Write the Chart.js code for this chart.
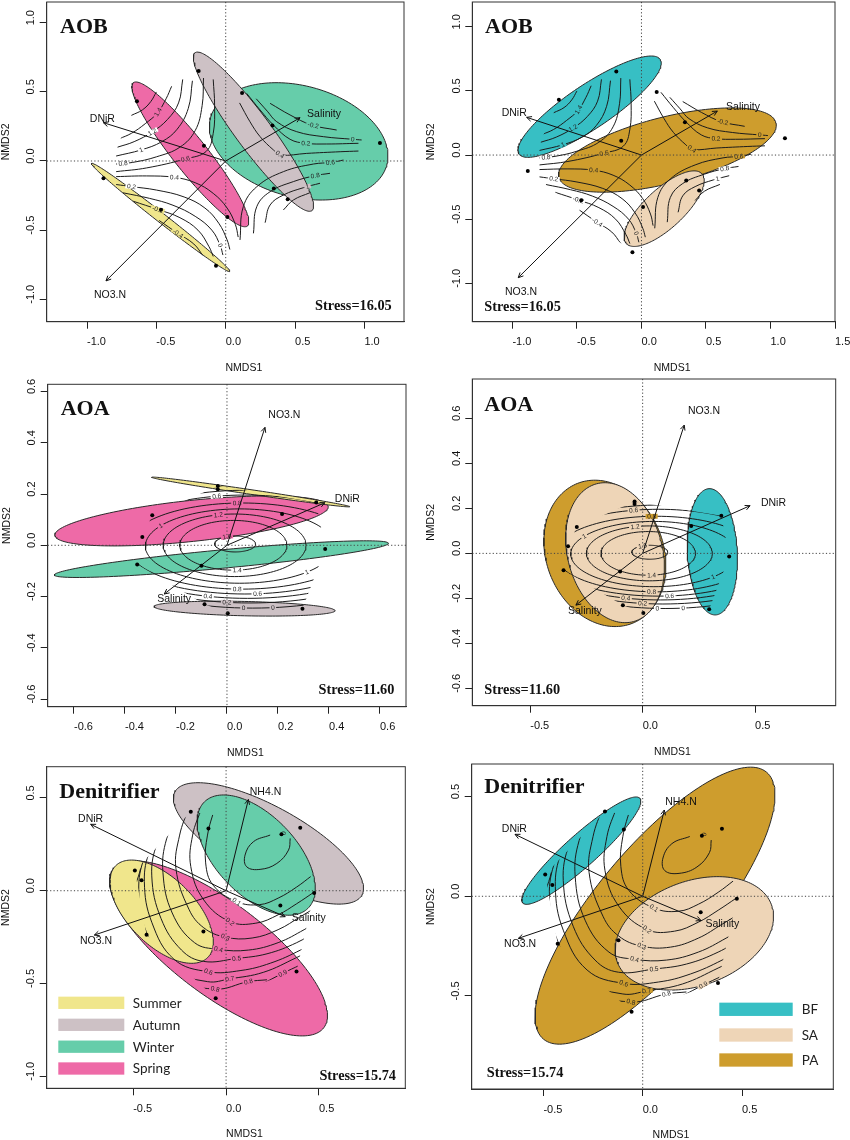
<!DOCTYPE html>
<html>
<head>
<meta charset="utf-8">
<title>NMDS ordinations</title>
<script src="https://cdn.jsdelivr.net/npm/chart.js@4.4.1/dist/chart.umd.min.js"></script>
<style>
html,body{margin:0;padding:0;background:#ffffff;}
#wrap{position:relative;width:850px;height:1140px;overflow:hidden;background:#ffffff;}
#wrap canvas{position:absolute;display:block;}
</style>
</head>
<body>
<div id="wrap"></div>
<script>
/* ================= DATA ================= */
// sample scores (NMDS1, NMDS2)
const aobX = [-0.640, -0.195, 0.118, -0.157, 0.337, 1.112, 0.347, 0.447, 0.012, -0.881, -0.467, -0.070];
const aobY = [0.432, 0.651, 0.491, 0.111, 0.256, 0.131, -0.198, -0.277, -0.405, -0.125, -0.353, -0.758];
const aoaX = [-0.036, -0.036, 0.350, 0.216, -0.293, -0.332, 0.385, -0.352, -0.100, -0.088, 0.003, 0.296];
const aoaY = [0.231, 0.219, 0.167, 0.122, 0.117, 0.032, -0.014, -0.075, -0.080, -0.230, -0.265, -0.248];
const denX = [-0.190, -0.095, 0.298, 0.399, -0.491, -0.455, 0.474, 0.292, -0.122, -0.428, 0.379, -0.056];
const denY = [0.426, 0.335, 0.304, 0.339, 0.109, 0.057, -0.012, -0.080, -0.220, -0.238, -0.435, -0.579];

// groups
const seasonNames = ['Summer', 'Autumn', 'Winter', 'Spring'];
const siteNames = ['BF', 'SA', 'PA'];
const seasonColors = {Summer: '#F0E68C', Autumn: '#CDC1C5', Winter: '#66CDAA', Spring: '#EE6AA7'};
const siteColors = {BF: '#37BFC4', SA: '#EED5B7', PA: '#CE9D2D'};

// group ellipses: [group, centre x, centre y, semi-major, semi-minor, angle (deg)] in drawing order
const aobSeasonEll = [['Summer', -0.469, -0.408, 0.634, 0.034, -38.1], ['Spring', -0.255, 0.048, 0.661, 0.122, -51.6], ['Winter', 0.526, 0.142, 0.658, 0.402, -15.1], ['Autumn', 0.200, 0.212, 0.709, 0.128, -53.6]];
const aobSiteEll = [['BF', -0.402, 0.377, 0.660, 0.170, 34.0], ['PA', 0.201, 0.039, 0.868, 0.258, 14.2], ['SA', 0.176, -0.418, 0.400, 0.152, 43.0]];
const aoaSeasonEll = [['Spring', -0.139, 0.095, 0.539, 0.080, 6.0], ['Winter', -0.022, -0.054, 0.658, 0.036, 5.4], ['Autumn', 0.069, -0.247, 0.355, 0.028, -1.3], ['Summer', 0.093, 0.208, 0.393, 0.009, -8.4]];
const aoaSiteEll = [['PA', -0.168, 0.000, 0.334, 0.261, -68.7], ['SA', -0.123, 0.003, 0.317, 0.211, -75.0], ['BF', 0.310, 0.007, 0.281, 0.111, 93.0]];
const denSeasonEll = [['Autumn', 0.228, 0.255, 0.575, 0.196, -29.0], ['Winter', 0.162, 0.192, 0.400, 0.215, -46.0], ['Spring', -0.041, -0.311, 0.710, 0.250, -37.0], ['Summer', -0.347, -0.113, 0.350, 0.180, -45.0]];
const denSiteEll = [['BF', -0.309, 0.229, 0.395, 0.080, 41.7], ['PA', 0.062, -0.047, 0.874, 0.290, 50.0], ['SA', 0.260, -0.186, 0.414, 0.262, 20.3]];

// fitted environmental vectors: [name, tip x, tip y, label x, label y]
const aobSeasonArrows = [['Salinity', 0.536, 0.313, 0.709, 0.337], ['DNiR', -0.882, 0.277, -0.889, 0.301], ['NO3.N', -0.863, -0.867, -0.834, -0.969]];
const aobSiteArrows = [['Salinity', 0.588, 0.343, 0.787, 0.374], ['DNiR', -0.890, 0.294, -0.986, 0.330], ['NO3.N', -0.955, -0.956, -0.934, -1.065]];
const aoaSeasonArrows = [['NO3.N', 0.149, 0.460, 0.225, 0.508], ['DNiR', 0.384, 0.166, 0.472, 0.179], ['Salinity', -0.246, -0.190, -0.207, -0.211]];
const aoaSiteArrows = [['NO3.N', 0.185, 0.570, 0.273, 0.633], ['DNiR', 0.478, 0.212, 0.582, 0.222], ['Salinity', -0.297, -0.230, -0.257, -0.256]];
const denSeasonArrows = [['NH4.N', 0.120, 0.492, 0.212, 0.534], ['DNiR', -0.729, 0.358, -0.729, 0.388], ['NO3.N', -0.709, -0.239, -0.700, -0.270], ['Salinity', 0.318, -0.140, 0.445, -0.147]];
const denSiteArrows = [['NH4.N', 0.109, 0.433, 0.193, 0.472], ['DNiR', -0.643, 0.311, -0.646, 0.338], ['NO3.N', -0.626, -0.211, -0.617, -0.241], ['Salinity', 0.294, -0.122, 0.401, -0.139]];

// fitted surface contours (ordisurf): [level, [[x,y],...]]
const aobContours = [
  ['1.6', [[-0.68, 0.33], [-0.60, 0.37], [-0.54, 0.43], [-0.50, 0.50]]],
  ['1.4', [[-0.77, 0.16], [-0.68, 0.20], [-0.58, 0.27], [-0.49, 0.35], [-0.43, 0.45], [-0.39, 0.54]]],
  ['1.2', [[-0.78, 0.10], [-0.66, 0.14], [-0.53, 0.21], [-0.42, 0.30], [-0.34, 0.42], [-0.31, 0.59]]],
  ['1', [[-0.79, 0.036], [-0.61, 0.08], [-0.46, 0.14], [-0.35, 0.23], [-0.27, 0.38], [-0.24, 0.58]]],
  ['0.8', [[-0.79, -0.022], [-0.67, -0.01], [-0.50, 0.03], [-0.33, 0.10], [-0.22, 0.22], [-0.17, 0.40], [-0.16, 0.60]]],
  ['0.6', [[-0.79, -0.077], [-0.57, -0.05], [-0.29, 0.015], [-0.14, 0.07], [-0.09, 0.20], [-0.08, 0.40], [-0.09, 0.59]]],
  ['0.4', [[-0.79, -0.113], [-0.57, -0.108], [-0.37, -0.118], [-0.22, -0.157], [-0.09, -0.234], [0.01, -0.34], [0.07, -0.46], [0.09, -0.55]]],
  ['0.2', [[-0.79, -0.17], [-0.68, -0.185], [-0.50, -0.21], [-0.30, -0.26], [-0.15, -0.34], [-0.05, -0.45], [0.01, -0.57], [0.03, -0.64]]],
  ['0', [[-0.74, -0.23], [-0.55, -0.27], [-0.38, -0.32], [-0.22, -0.40], [-0.10, -0.50], [-0.04, -0.61], [-0.02, -0.68]]],
  ['-0.2', [[-0.67, -0.29], [-0.49, -0.35], [-0.33, -0.41], [-0.20, -0.50], [-0.12, -0.62], [-0.09, -0.69]]],
  ['-0.4', [[-0.48, -0.43], [-0.35, -0.52], [-0.23, -0.60], [-0.16, -0.69]]],
  ['0.4', [[0.10, 0.42], [0.175, 0.284], [0.248, 0.176], [0.344, 0.08], [0.397, 0.043], [0.584, 0.055], [0.825, 0.067], [0.957, 0.072]]],
  ['0.2', [[0.151, 0.489], [0.248, 0.369], [0.344, 0.26], [0.464, 0.157], [0.577, 0.128], [0.728, 0.123], [0.957, 0.128]]],
  ['0', [[0.22, 0.45], [0.30, 0.36], [0.368, 0.284], [0.512, 0.212], [0.704, 0.176], [0.916, 0.157], [0.98, 0.152]]],
  ['-0.2', [[0.32, 0.417], [0.464, 0.333], [0.62, 0.26], [0.80, 0.224]]],
  ['0.6', [[0.103, -0.571], [0.127, -0.33], [0.224, -0.186], [0.416, -0.077], [0.632, -0.022], [0.764, -0.010], [0.849, 0.007]]],
  ['0.8', [[0.200, -0.523], [0.224, -0.33], [0.32, -0.222], [0.488, -0.149], [0.644, -0.106], [0.752, -0.089]]],
  ['1', [[0.284, -0.446], [0.32, -0.318], [0.416, -0.246], [0.56, -0.193], [0.68, -0.161]]],
  ['1.2', [[0.416, -0.354], [0.488, -0.282], [0.608, -0.229]]]
];
const aobContourLabels = [['1.4', -0.49, 0.355], ['1.2', -0.53, 0.21], ['1', -0.61, 0.083], ['0.8', -0.74, -0.018], ['0.6', -0.29, 0.015], ['0.4', -0.37, -0.118], ['0.2', -0.68, -0.185], ['-0.2', -0.49, -0.35], ['-0.4', -0.34, -0.52], ['0', -0.04, -0.61], ['-0.2', 0.63, 0.255], ['0', 0.916, 0.157], ['0.2', 0.578, 0.127], ['0.4', 0.39, 0.045], ['0.6', 0.755, -0.012], ['0.8', 0.645, -0.105], ['1', 0.59, -0.185]];

// AOA surface: closed contour rings [level, centre x, centre y, half-width, half-height]
const aoaRings = [['1.6', 0.032, 0.005, 0.08, 0.031], ['1.4', 0.025, 0.0, 0.21, 0.097], ['1.2', 0.03, 0.0, 0.28, 0.122], ['1', 0.05, -0.003, 0.37, 0.145], ['0.8', 0.06, -0.003, 0.45, 0.168], ['0.6', 0.07, 0.003, 0.52, 0.193], ['0.4', 0.08, 0.004, 0.57, 0.211], ['0.2', 0.09, 0.0045, 0.62, 0.2295], ['0', 0.10, 0.005, 0.67, 0.25]];
const aoaContourLabels = [['1.6', 0.0, 0.033], ['1.4', 0.04, -0.097], ['1.2', -0.034, 0.119], ['1', -0.26, 0.076], ['1', 0.314, -0.107], ['0.8', 0.04, 0.165], ['0.8', 0.04, -0.171], ['0.6', -0.04, 0.19], ['0.6', 0.12, -0.189], ['0.4', -0.075, -0.199], ['0.2', 0.0, -0.222], ['0', 0.065, -0.245], ['0', 0.18, -0.244]];

const denContours = [
  ['0', [[0.237, 0.300], [0.147, 0.264], [0.102, 0.192], [0.111, 0.129], [0.183, 0.115], [0.273, 0.147], [0.336, 0.219], [0.345, 0.282]]],
  ['0.1', [[-0.06, 0.45], [-0.10, 0.30], [-0.11, 0.15], [-0.07, 0.03], [0.057, -0.059], [0.18, -0.075], [0.28, -0.04], [0.38, 0.02], [0.46, 0.08]]],
  ['0.2', [[-0.13, 0.45], [-0.18, 0.30], [-0.19, 0.13], [-0.12, -0.05], [0.022, -0.167], [0.16, -0.175], [0.28, -0.13], [0.38, -0.07], [0.47, -0.01]]],
  ['0.3', [[-0.20, 0.45], [-0.25, 0.30], [-0.27, 0.12], [-0.20, -0.10], [-0.12, -0.20], [-0.005, -0.25], [0.14, -0.255], [0.28, -0.21], [0.40, -0.14], [0.50, -0.08]]],
  ['0.4', [[-0.25, 0.42], [-0.32, 0.28], [-0.34, 0.10], [-0.29, -0.12], [-0.17, -0.28], [-0.041, -0.316], [0.12, -0.32], [0.28, -0.28], [0.42, -0.21], [0.52, -0.15]]],
  ['0.5', [[-0.29, 0.40], [-0.37, 0.26], [-0.40, 0.08], [-0.35, -0.15], [-0.24, -0.32], [-0.122, -0.381], [0.057, -0.365], [0.22, -0.34], [0.38, -0.28], [0.50, -0.21]]],
  ['0.6', [[-0.33, 0.37], [-0.41, 0.22], [-0.44, 0.05], [-0.40, -0.17], [-0.28, -0.37], [-0.095, -0.437], [0.08, -0.43], [0.24, -0.39], [0.40, -0.32], [0.52, -0.25]]],
  ['0.7', [[-0.36, 0.33], [-0.44, 0.18], [-0.47, 0.0], [-0.43, -0.22], [-0.30, -0.42], [-0.10, -0.49], [0.02, -0.475], [0.20, -0.44], [0.38, -0.36], [0.50, -0.30]]],
  ['0.8', [[-0.46, 0.12], [-0.50, -0.05], [-0.46, -0.26], [-0.33, -0.46], [-0.059, -0.53], [0.12, -0.49], [0.22, -0.48]]],
  ['0.9', [[0.20, -0.50], [0.305, -0.445], [0.40, -0.40]]]
];
const denContourLabels = [['0', 0.31, 0.31], ['0.1', 0.057, -0.059], ['0.2', 0.022, -0.167], ['0.3', -0.005, -0.25], ['0.4', -0.041, -0.316], ['0.5', 0.057, -0.365], ['0.6', -0.095, -0.437], ['0.7', 0.02, -0.475], ['0.8', 0.12, -0.49], ['0.8', -0.059, -0.53], ['0.9', 0.305, -0.445]];

// axis tick values
const aobTicks = [-1, -0.5, 0, 0.5, 1];
const aobSiteXTicks = [-1, -0.5, 0, 0.5, 1, 1.5];
const aoaTicks = [-0.6, -0.4, -0.2, 0, 0.2, 0.4, 0.6];
const halfTicks = [-0.5, 0, 0.5];
const denYTicks = [-1, -0.5, 0, 0.5];

/* ================= PANELS ================= */
const PANELS = {
  p1: {xs: aobX, ys: aobY, xt: aobTicks, yt: aobTicks, ell: aobSeasonEll, col: seasonColors, cont: aobContours, rings: [], clabels: aobContourLabels, arrows: aobSeasonArrows, title: 'AOB', stress: 'Stress=16.05', legend: null},
  p2: {xs: aobX, ys: aobY, xt: aobSiteXTicks, yt: aobTicks, ell: aobSiteEll, col: siteColors, cont: aobContours, rings: [], clabels: aobContourLabels, arrows: aobSiteArrows, title: 'AOB', stress: 'Stress=16.05', legend: null},
  p3: {xs: aoaX, ys: aoaY, xt: aoaTicks, yt: aoaTicks, ell: aoaSeasonEll, col: seasonColors, cont: [], rings: aoaRings, clabels: aoaContourLabels, arrows: aoaSeasonArrows, title: 'AOA', stress: 'Stress=11.60', legend: null},
  p4: {xs: aoaX, ys: aoaY, xt: halfTicks, yt: aoaTicks, ell: aoaSiteEll, col: siteColors, cont: [], rings: aoaRings, clabels: aoaContourLabels, arrows: aoaSiteArrows, title: 'AOA', stress: 'Stress=11.60', legend: null},
  p5: {xs: denX, ys: denY, xt: halfTicks, yt: denYTicks, ell: denSeasonEll, col: seasonColors, cont: denContours, rings: [], clabels: denContourLabels, arrows: denSeasonArrows, title: 'Denitrifier', stress: 'Stress=15.74', legend: seasonNames},
  p6: {xs: denX, ys: denY, xt: halfTicks, yt: halfTicks, ell: denSiteEll, col: siteColors, cont: denContours, rings: [], clabels: denContourLabels, arrows: denSiteArrows, title: 'Denitrifier', stress: 'Stress=15.74', legend: siteNames}
};

// page layout (pixels) and axis limits
const LAYOUT = {
  p1: {left: 0, top: 0, w: 425, h: 378, L: 46.7, T: 2, R: 404, B: 321.7, xr: [-1.2906, 1.2855], yr: [-1.162, 1.1497], titleAt: [60, 33.3], stressAt: ['right', 391.7, 310]},
  p2: {left: 425, top: 0, w: 425, h: 378, L: 472.3, T: 2, R: 835, B: 321.7, xr: [-1.311, 1.5], yr: [-1.299, 1.193], titleAt: [485, 33.3], stressAt: ['left', 484.3, 310.7]},
  p3: {left: 0, top: 370, w: 425, h: 393, L: 47.7, T: 384.3, R: 406, B: 706.7, xr: [-0.703, 0.702], yr: [-0.6296, 0.628], titleAt: [60.7, 415], stressAt: ['right', 394.3, 694]},
  p4: {left: 425, top: 370, w: 425, h: 393, L: 472.3, T: 379, R: 835.7, B: 705.7, xr: [-0.758, 0.859], yr: [-0.677, 0.775], titleAt: [484.3, 411], stressAt: ['left', 484.3, 694]},
  p5: {left: 0, top: 755, w: 425, h: 385, L: 46.7, T: 766.7, R: 405.3, B: 1088.3, xr: [-0.9655, 0.9645], yr: [-1.065, 0.6685], titleAt: [59.3, 798.3], stressAt: ['right', 396, 1080],
       legendBox: {x0: 58.3, x1: 124.3, rows: [1002.8, 1024.8, 1046.7, 1068.5], h: 12.3, tx: 132.7}},
  p6: {left: 425, top: 755, w: 425, h: 385, L: 471.7, T: 764, R: 833.3, B: 1089, xr: [-0.861, 0.9597], yr: [-0.9669, 0.6638], titleAt: [484.3, 793.3], stressAt: ['left', 486.7, 1076.7],
       legendBox: {x0: 719.3, x1: 792.7, rows: [1009.3, 1035, 1060], h: 13.3, tx: 801.7}}
};

/* ================= HELPERS ================= */
function ellipsePts(cx, cy, a, b, deg, n) {
  const t0 = deg * Math.PI / 180, c = Math.cos(t0), s = Math.sin(t0), out = [];
  for (let i = 0; i <= n; i++) {
    const t = 2 * Math.PI * i / n, u = a * Math.cos(t), v = b * Math.sin(t);
    out.push({x: cx + u * c - v * s, y: cy + u * s + v * c});
  }
  return out;
}
function hullOf(xs, ys) {
  const p = xs.map((x, i) => [x, ys[i]]).sort((a, b) => a[0] - b[0] || a[1] - b[1]);
  const cr = (o, a, b) => (a[0] - o[0]) * (b[1] - o[1]) - (a[1] - o[1]) * (b[0] - o[0]);
  const lo = [], up = [];
  for (const q of p) { while (lo.length >= 2 && cr(lo[lo.length - 2], lo[lo.length - 1], q) <= 0) lo.pop(); lo.push(q); }
  for (const q of p.slice().reverse()) { while (up.length >= 2 && cr(up[up.length - 2], up[up.length - 1], q) <= 0) up.pop(); up.push(q); }
  return lo.slice(0, -1).concat(up.slice(0, -1));
}
function coverColor(P, x, y) {
  let col = '#ffffff';
  P.ell.forEach(e => {
    const t = -e[5] * Math.PI / 180, dx = x - e[1], dy = y - e[2];
    const u = dx * Math.cos(t) - dy * Math.sin(t), v = dx * Math.sin(t) + dy * Math.cos(t);
    if ((u / e[3]) ** 2 + (v / e[4]) ** 2 <= 1) col = P.col[e[0]];
  });
  return col;
}
const fmt = v => (Math.abs(v) < 1e-9 ? 0 : v).toFixed(1);
const SANS = '"Liberation Sans", Arial, sans-serif';
const SERIF = '"Liberation Serif", "Times New Roman", serif';

function drawContourLabels(chart) {
  const P = PANELS[chart.canvas.id], ctx = chart.ctx, sx = chart.scales.x, sy = chart.scales.y;
  const segs = [];
  chart.data.datasets.forEach((d, i) => {
    if (d.kind !== 'contour') return;
    const m = chart.getDatasetMeta(i);
    for (let k = 1; k < m.data.length; k++) segs.push([m.data[k - 1], m.data[k]]);
  });
  ctx.save();
  ctx.font = '6.5px ' + SANS; ctx.textAlign = 'center'; ctx.textBaseline = 'middle';
  P.clabels.forEach(l => {
    let X = sx.getPixelForValue(l[1]), Y = sy.getPixelForValue(l[2]);
    let best = 1e9, ang = 0, px = X, py = Y;
    segs.forEach(s => {
      const ax = s[0].x, ay = s[0].y, dx = s[1].x - ax, dy = s[1].y - ay;
      const L2 = dx * dx + dy * dy || 1;
      let t = ((X - ax) * dx + (Y - ay) * dy) / L2; t = Math.max(0, Math.min(1, t));
      const qx = ax + t * dx, qy = ay + t * dy, d2 = (qx - X) ** 2 + (qy - Y) ** 2;
      if (d2 < best) { best = d2; ang = Math.atan2(dy, dx); px = qx; py = qy; }
    });
    if (best < 36) { X = px; Y = py; }
    if (ang > Math.PI / 2) ang -= Math.PI;
    if (ang < -Math.PI / 2) ang += Math.PI;
    const w = ctx.measureText(l[0]).width + 3;
    ctx.save(); ctx.translate(X, Y); ctx.rotate(ang);
    ctx.fillStyle = coverColor(P, sx.getValueForPixel(X), sy.getValueForPixel(Y));
    ctx.fillRect(-w / 2, -2.4, w, 4.8);
    ctx.fillStyle = '#222'; ctx.fillText(l[0], 0, 0.3);
    ctx.restore();
  });
  ctx.restore();
}

const deco = {
  id: 'deco',
  beforeDatasetDraw(chart, args) {
    const d = chart.data.datasets[args.index], ctx = chart.ctx, P = PANELS[chart.canvas.id];
    if (d.kind === 'ellipse') {
      const a = chart.chartArea, pts = args.meta.data;
      ctx.save(); ctx.beginPath(); ctx.rect(a.left, a.top, a.right - a.left, a.bottom - a.top); ctx.clip();
      ctx.beginPath(); pts.forEach((p, i) => i ? ctx.lineTo(p.x, p.y) : ctx.moveTo(p.x, p.y)); ctx.closePath();
      ctx.fillStyle = d.fillColor; ctx.fill(); ctx.restore();
    } else if (d.kind === 'contour') {
      const sx = chart.scales.x, sy = chart.scales.y;
      ctx.save(); ctx.beginPath();
      P.hull.forEach((p, i) => { const X = sx.getPixelForValue(p[0]), Y = sy.getPixelForValue(p[1]); i ? ctx.lineTo(X, Y) : ctx.moveTo(X, Y); });
      ctx.closePath(); ctx.clip();
    }
  },
  afterDatasetDraw(chart, args) {
    const d = chart.data.datasets[args.index];
    if (d.kind === 'contour') { chart.ctx.restore(); if (d.labelHost) drawContourLabels(chart); }
  },
  afterDatasetsDraw(chart) {
    const id = chart.canvas.id, P = PANELS[id], G = LAYOUT[id], ctx = chart.ctx, a = chart.chartArea;
    const sx = chart.scales.x, sy = chart.scales.y;
    // arrow heads
    ctx.save(); ctx.strokeStyle = '#111'; ctx.lineWidth = 1;
    chart.data.datasets.forEach((d, i) => {
      if (d.kind !== 'arrow') return;
      const m = chart.getDatasetMeta(i), o = m.data[0], t = m.data[1];
      const ang = Math.atan2(t.y - o.y, t.x - o.x), L = 5.5, sp = 0.45;
      ctx.beginPath();
      ctx.moveTo(t.x - L * Math.cos(ang - sp), t.y - L * Math.sin(ang - sp));
      ctx.lineTo(t.x, t.y);
      ctx.lineTo(t.x - L * Math.cos(ang + sp), t.y - L * Math.sin(ang + sp));
      ctx.stroke();
    });
    ctx.restore();
    // arrow labels
    ctx.save(); ctx.font = '10.5px ' + SANS; ctx.fillStyle = '#111'; ctx.textAlign = 'center'; ctx.textBaseline = 'middle';
    P.arrows.forEach(r => ctx.fillText(r[0], sx.getPixelForValue(r[3]), sy.getPixelForValue(r[4])));
    ctx.restore();
    // dotted zero lines
    const x0 = sx.getPixelForValue(0), y0 = sy.getPixelForValue(0);
    ctx.save(); ctx.strokeStyle = '#444'; ctx.lineWidth = 1; ctx.setLineDash([1.2, 2.2]);
    ctx.beginPath(); ctx.moveTo(x0, a.top); ctx.lineTo(x0, a.bottom); ctx.moveTo(a.left, y0); ctx.lineTo(a.right, y0); ctx.stroke();
    ctx.restore();
    // frame
    ctx.save(); ctx.strokeStyle = '#333'; ctx.lineWidth = 1; ctx.strokeRect(a.left, a.top, a.right - a.left, a.bottom - a.top); ctx.restore();
    // panel title and stress
    ctx.save(); ctx.fillStyle = '#111'; ctx.textBaseline = 'alphabetic';
    ctx.font = 'bold 22px ' + SERIF; ctx.textAlign = 'left';
    ctx.fillText(P.title, G.titleAt[0] - G.left, G.titleAt[1] - G.top);
    ctx.font = 'bold 14.3px ' + SERIF; ctx.textAlign = G.stressAt[0];
    ctx.fillText(P.stress, G.stressAt[1] - G.left, G.stressAt[2] - G.top);
    ctx.restore();
    // legend
    if (P.legend && G.legendBox) {
      const lb = G.legendBox;
      ctx.save(); ctx.font = '13.5px Lato, ' + SANS; ctx.textAlign = 'left'; ctx.textBaseline = 'middle';
      P.legend.forEach((n, i) => {
        const cy = lb.rows[i] - G.top;
        ctx.fillStyle = P.col[n];
        ctx.fillRect(lb.x0 - G.left, cy - lb.h / 2, lb.x1 - lb.x0, lb.h);
        ctx.fillStyle = '#222';
        ctx.fillText(n, lb.tx - G.left, cy + 0.5);
      });
      ctx.restore();
    }
  },
  afterDraw(chart) {
    const id = chart.canvas.id, G = LAYOUT[id], ctx = chart.ctx;
    ctx.save(); ctx.font = '10.5px ' + SANS; ctx.fillStyle = '#111'; ctx.textAlign = 'center'; ctx.textBaseline = 'middle';
    ctx.fillText('NMDS1', (G.L + G.R) / 2 + 18.5 - G.left, G.B + 46 - G.top);
    ctx.translate(G.L - 41 - G.left, (G.T + G.B) / 2 - 20 - G.top); ctx.rotate(-Math.PI / 2);
    ctx.fillText('NMDS2', 0, 0);
    ctx.restore();
  }
};

function buildDatasets(P) {
  const ds = [];
  ds.push({kind: 'points', data: P.xs.map((x, i) => ({x: x, y: P.ys[i]})), showLine: false, pointRadius: 2.0, pointHoverRadius: 2.0,
           pointBackgroundColor: '#000', pointBorderWidth: 0, pointBorderColor: '#000', order: 1});
  P.arrows.forEach(r => ds.push({kind: 'arrow', label: r[0], data: [{x: 0, y: 0}, {x: r[1], y: r[2]}], showLine: true,
           borderColor: '#111', borderWidth: 1, pointRadius: 0, pointHoverRadius: 0, order: 2}));
  let first = true;
  P.cont.forEach(c => { ds.push({kind: 'contour', labelHost: first, label: c[0], data: c[1].map(p => ({x: p[0], y: p[1]})), showLine: true, tension: 0.4,
           borderColor: '#1c1c1c', borderWidth: 1, pointRadius: 0, pointHoverRadius: 0, order: 5}); first = false; });
  P.rings.forEach(r => { ds.push({kind: 'contour', labelHost: first, label: r[0], data: ellipsePts(r[1], r[2], r[3], r[4], 0, 120), showLine: true, tension: 0,
           borderColor: '#1c1c1c', borderWidth: 1, pointRadius: 0, pointHoverRadius: 0, order: 5}); first = false; });
  P.ell.forEach((e, i) => ds.push({kind: 'ellipse', label: e[0], fillColor: P.col[e[0]], data: ellipsePts(e[1], e[2], e[3], e[4], e[5], 160), showLine: true,
           borderColor: '#2a2a2a', borderWidth: 1, pointRadius: 0, pointHoverRadius: 0, order: 100 - i}));
  return ds;
}

function scaleCfg(isX, P, G) {
  const tickFont = {family: SANS, size: 11};
  return {
    type: 'linear',
    min: isX ? G.xr[0] : G.yr[0],
    max: isX ? G.xr[1] : G.yr[1],
    afterBuildTicks: s => { s.ticks = (isX ? P.xt : P.yt).map(v => ({value: v})); },
    afterFit: s => {
      if (isX) s.height = G.top + G.h - G.B; else s.width = G.L - G.left;
      s.paddingLeft = 0; s.paddingRight = 0; s.paddingTop = 0; s.paddingBottom = 0;
    },
    grid: {display: true, drawOnChartArea: false, drawTicks: true, tickLength: 7, tickWidth: 1, tickColor: '#222', color: '#222', lineWidth: 1},
    border: {display: true, color: '#333', width: 1},
    ticks: isX
      ? {font: tickFont, color: '#111', padding: 7, align: 'start', maxRotation: 0, minRotation: 0, autoSkip: false, callback: v => fmt(v)}
      : {font: tickFont, color: '#111', padding: -1, crossAlign: 'center', minRotation: 90, maxRotation: 90, labelOffset: -5, autoSkip: false, callback: v => fmt(v)}
  };
}

const wrap = document.getElementById('wrap');
Object.keys(PANELS).forEach(id => {
  const P = PANELS[id], G = LAYOUT[id];
  P.hull = hullOf(P.xs, P.ys);
  const cv = document.createElement('canvas');
  cv.id = id; cv.width = G.w; cv.height = G.h;
  cv.style.left = G.left + 'px'; cv.style.top = G.top + 'px';
  cv.style.width = G.w + 'px'; cv.style.height = G.h + 'px';
  wrap.appendChild(cv);
  new Chart(cv, {
    type: 'scatter',
    data: {datasets: buildDatasets(P)},
    options: {
      responsive: false, maintainAspectRatio: false, animation: false, events: [],
      layout: {autoPadding: false, padding: {left: 0, top: G.T - G.top, right: G.left + G.w - G.R, bottom: 0}},
      plugins: {legend: {display: false}, tooltip: {enabled: false}, title: {display: false}},
      scales: {x: scaleCfg(true, P, G), y: scaleCfg(false, P, G)}
    },
    plugins: [deco]
  });
});
</script>
</body>
</html>
